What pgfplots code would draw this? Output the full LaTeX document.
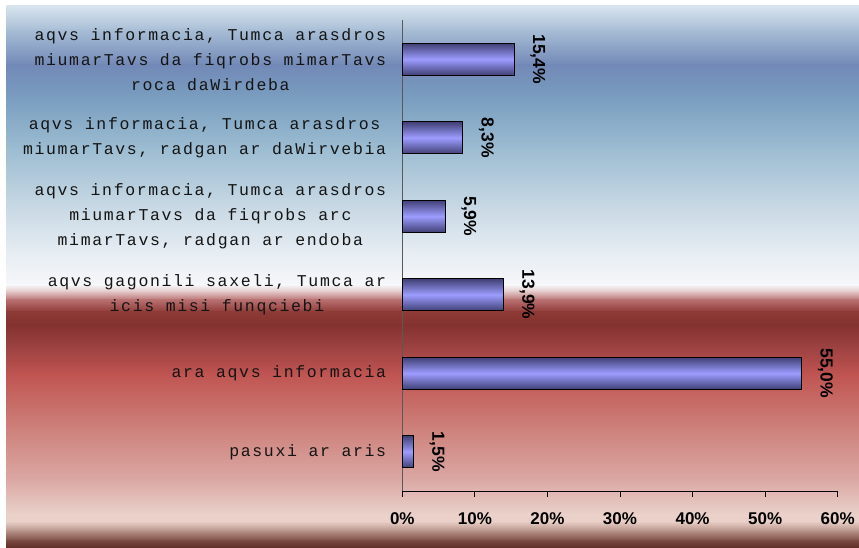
\documentclass[border=0pt]{standalone}
\usepackage{fontspec}
\setmainfont{Liberation Sans}
\newfontfamily\labfont[LetterSpace=10]{Liberation Mono}
\usepackage{pgfplots}
\pgfplotsset{compat=1.18}
\definecolor{barDark}{HTML}{404075}
\definecolor{barLight}{HTML}{9C9CFF}
\newcommand{\bgseg}[4]{%
  \fill[top color=#3, bottom color=#4, draw=none] (6,{548-#1+0.4}) rectangle (859,{548-#2-0.4});}
\begin{document}
\begin{tikzpicture}[x=1pt,y=1pt]
\path[use as bounding box] (0,0) rectangle (859,548);
\definecolor{s1}{HTML}{D9E5EF}
\definecolor{s2}{HTML}{A8BED6}
\definecolor{s3}{HTML}{7289B7}
\definecolor{s4}{HTML}{7A9FC0}
\definecolor{s5}{HTML}{9DBDD2}
\definecolor{s6}{HTML}{C3D5E2}
\definecolor{s7}{HTML}{E5ECF2}
\definecolor{s8}{HTML}{F6F7FA}
\definecolor{s9}{HTML}{E2C4C4}
\definecolor{s10}{HTML}{B87070}
\definecolor{s11}{HTML}{8E3A36}
\definecolor{s12}{HTML}{843230}
\definecolor{s13}{HTML}{9A4040}
\definecolor{s14}{HTML}{C05552}
\definecolor{s15}{HTML}{CE827C}
\definecolor{s16}{HTML}{DBA8A4}
\definecolor{s17}{HTML}{EAD2CB}
\definecolor{s18}{HTML}{E8CEC6}
\definecolor{s19}{HTML}{B08A80}
\definecolor{s20}{HTML}{7A4A42}
\definecolor{s21}{HTML}{5A2A22}
\bgseg{6}{30}{s1}{s2}
\bgseg{30}{65}{s2}{s3}
\bgseg{65}{100}{s3}{s4}
\bgseg{100}{150}{s4}{s5}
\bgseg{150}{200}{s5}{s6}
\bgseg{200}{250}{s6}{s7}
\bgseg{250}{285}{s7}{s8}
\bgseg{285}{292}{s8}{s9}
\bgseg{292}{300}{s9}{s10}
\bgseg{300}{312}{s10}{s11}
\bgseg{312}{325}{s11}{s12}
\bgseg{325}{345}{s12}{s13}
\bgseg{345}{375}{s13}{s14}
\bgseg{375}{430}{s14}{s15}
\bgseg{430}{480}{s15}{s16}
\bgseg{480}{515}{s16}{s17}
\bgseg{515}{522}{s17}{s18}
\bgseg{522}{532}{s18}{s19}
\bgseg{532}{541}{s19}{s20}
\bgseg{541}{548}{s20}{s21}
\begin{axis}[
  at={(402.3pt,57pt)}, anchor=south west,
  scale only axis, width=435.4pt, height=471pt,
  xbar, clip=false,
  xmin=0, xmax=60, ymin=0.5, ymax=6.5,
  bar width=32pt, bar shift=0pt,
  axis x line*=bottom, axis y line*=left,
  x axis line style={-, black, line width=0.8pt},
  y axis line style={-, black!65, line width=0.8pt},
  /pgf/number format/assume math mode=true,
  xtick={0,10,20,30,40,50,60},
  xticklabel={\pgfmathprintnumber{\tick}\%},
  xticklabel style={font=\fontsize{17}{18}\selectfont\bfseries, inner sep=0pt, anchor=north, yshift=-15pt},
  x tick style={black, line width=0.8pt},
  tick align=outside, major tick length=6pt,
  ytick={1,2,3,4,5,6},
  y tick style={draw=none},
  yticklabels={
    pasuxi ar aris,
    ara aqvs informacia,
    {aqvs gagonili saxeli, Tumca ar\\icis misi funqciebi},
    {aqvs informacia, Tumca arasdros\\miumarTavs da fiqrobs arc\\mimarTavs, radgan ar endoba},
    {aqvs informacia, Tumca arasdros\\miumarTavs, radgan ar daWirvebia},
    {aqvs informacia, Tumca arasdros\\miumarTavs da fiqrobs mimarTavs\\roca daWirdeba}},
  yticklabel style={align=center, font=\labfont\fontsize{16.5}{25}\selectfont, inner sep=0pt, xshift=-10pt, text=black!92},
  point meta=x,
  nodes near coords={\pgfmathprintnumber[fixed,fixed zerofill,precision=1,use comma]{\pgfplotspointmeta}\%},
  nodes near coords align={anchor=south},
  every node near coord/.append style={font=\fontsize{17.5}{18}\selectfont\bfseries, xshift=16pt, rotate=-90, anchor=south, inner sep=0pt, text=black},
  mybar/.style={draw=black, line width=0.8pt, top color=barDark, bottom color=barDark, middle color=barLight},
]
\addplot[mybar] coordinates {(1.5,1)};
\addplot[mybar] coordinates {(55.0,2)};
\addplot[mybar] coordinates {(13.9,3)};
\addplot[mybar] coordinates {(5.9,4)};
\addplot[mybar] coordinates {(8.3,5)};
\addplot[mybar] coordinates {(15.4,6)};
\end{axis}
\end{tikzpicture}
\end{document}
